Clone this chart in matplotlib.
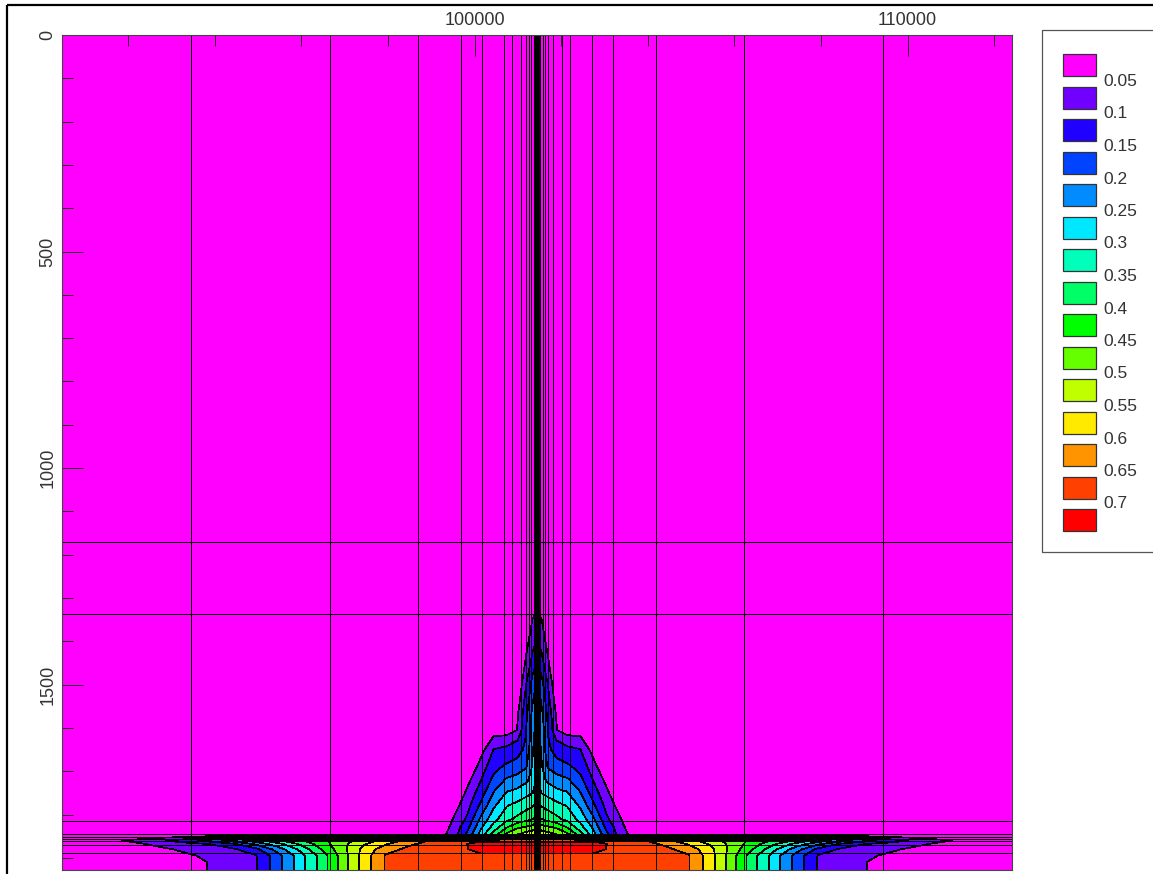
import numpy as np
import matplotlib
matplotlib.use("Agg")
import matplotlib.pyplot as plt
from matplotlib.patches import Rectangle

plt.rcParams["font.family"] = ["Liberation Sans", "DejaVu Sans"]

# ---- contour classes -------------------------------------------------------
levels = [0.05, 0.1, 0.15, 0.2, 0.25, 0.3, 0.35, 0.4, 0.45, 0.5, 0.55, 0.6, 0.65, 0.7]
level_labels = ["0.05", "0.1", "0.15", "0.2", "0.25", "0.3", "0.35", "0.4",
                "0.45", "0.5", "0.55", "0.6", "0.65", "0.7"]
fill_colors = ["#FF00FF", "#7000FF", "#2000FF", "#0044FF", "#008CFF", "#00E8FF",
               "#00FFBB", "#00FF66", "#00FF00", "#66FF00", "#BFFF00", "#FFEA00",
               "#FF9400", "#FF4000", "#FF0000"]

# ---- section geometry --------------------------------------------------------
well_x = 101440.0
x_min, x_max = 90470.0, 112410.0
z_top, z_bottom = 0.0, 1928.0

# radial distance of the data columns from the well
radius = [0, 100, 250, 450, 700, 1000, 1300, 1600, 1900, 2200, 2600, 3000, 3500,
          4000, 4500, 5000, 5500, 6000, 6500, 7000, 7600, 8200, 8800, 9600,
          10300, 11000]

# cone rising along the well (columns 0 .. 2600)
plume_depth = [0, 1250, 1300, 1350, 1420, 1500, 1570, 1605, 1620, 1650, 1690,
               1720, 1750, 1780, 1810, 1830, 1846]
plume_conc = [
    [0.0, 0.0, 0.0, 0.0, 0.0, 0.0, 0.0, 0.0, 0.0, 0.0, 0.0],
    [0.0, 0.0, 0.0, 0.0, 0.0, 0.0, 0.0, 0.0, 0.0, 0.0, 0.0],
    [0.02, 0.0, 0.0, 0.0, 0.0, 0.0, 0.0, 0.0, 0.0, 0.0, 0.0],
    [0.07, 0.053, 0.0, 0.0, 0.0, 0.0, 0.0, 0.0, 0.0, 0.0, 0.0],
    [0.12, 0.097, 0.042, 0.0, 0.0, 0.0, 0.0, 0.0, 0.0, 0.0, 0.0],
    [0.21, 0.171, 0.101, 0.0, 0.0, 0.0, 0.0, 0.0, 0.0, 0.0, 0.0],
    [0.255, 0.217, 0.139, 0.045, 0.0, 0.0, 0.0, 0.0, 0.0, 0.0, 0.0],
    [0.275, 0.233, 0.152, 0.054, 0.0, 0.0, 0.0, 0.0, 0.0, 0.0, 0.0],
    [0.28, 0.233, 0.152, 0.089, 0.065, 0.052, 0.0, 0.0, 0.0, 0.0, 0.0],
    [0.29, 0.246, 0.164, 0.127, 0.112, 0.102, 0.028, 0.0, 0.0, 0.0, 0.0],
    [0.305, 0.257, 0.196, 0.175, 0.160, 0.134, 0.072, 0.0, 0.0, 0.0, 0.0],
    [0.31, 0.271, 0.239, 0.22, 0.2075, 0.164, 0.098, 0.036, 0.0, 0.0, 0.0],
    [0.33, 0.299, 0.285, 0.267, 0.254, 0.203, 0.125, 0.064, 0.0, 0.0, 0.0],
    [0.36, 0.347, 0.334, 0.317, 0.298, 0.242, 0.161, 0.086, 0.032, 0.0, 0.0],
    [0.42, 0.399, 0.382, 0.362, 0.334, 0.283, 0.209, 0.110, 0.0585, 0.0, 0.0],
    [0.50, 0.47, 0.46, 0.444, 0.40, 0.321, 0.241, 0.139, 0.073, 0.020, 0.0],
    [0.55, 0.539, 0.523, 0.501, 0.464, 0.375, 0.271, 0.164, 0.083, 0.0335, 0.0],
]

# saline bottom layer (all columns)
layer_depth = [1860, 1868, 1880, 1895, 1910, 1928]
layer_conc = [
    [0.69, 0.69, 0.69, 0.69, 0.69, 0.69, 0.69, 0.69, 0.677, 0.664, 0.644, 0.609, 0.566,
     0.522, 0.479, 0.435, 0.391, 0.342, 0.281, 0.227, 0.169, 0.122, 0.087, 0.049, 0.0, 0.0],
    [0.72, 0.72, 0.72, 0.72, 0.72, 0.72, 0.72, 0.701, 0.689, 0.677, 0.661, 0.639, 0.595,
     0.545, 0.484, 0.422, 0.353, 0.280, 0.208, 0.143, 0.099, 0.081, 0.062, 0.021, 0.0, 0.0],
    [0.72, 0.72, 0.72, 0.72, 0.72, 0.72, 0.72, 0.699, 0.6905, 0.682, 0.671, 0.659, 0.630,
     0.564, 0.482, 0.398, 0.307, 0.221, 0.136, 0.094, 0.076, 0.059, 0.034, 0.0, 0.0, 0.0],
    [0.69, 0.69, 0.69, 0.69, 0.69, 0.69, 0.69, 0.69, 0.69, 0.685, 0.676, 0.666, 0.654,
     0.573, 0.472, 0.366, 0.272, 0.178, 0.096, 0.080, 0.061, 0.036, 0.005, 0.0, 0.0, 0.0],
    [0.68, 0.68, 0.68, 0.68, 0.68, 0.68, 0.68, 0.68, 0.68, 0.677, 0.670, 0.663, 0.654,
     0.573, 0.472, 0.366, 0.272, 0.178, 0.0935, 0.074, 0.051, 0.02, 0.0, 0.0, 0.0, 0.0],
    [0.68, 0.68, 0.68, 0.68, 0.68, 0.68, 0.68, 0.68, 0.68, 0.677, 0.670, 0.663, 0.654,
     0.573, 0.472, 0.366, 0.272, 0.178, 0.0935, 0.074, 0.051, 0.02, 0.0, 0.0, 0.0, 0.0],
]

# model grid lines
mesh_offsets = [8000, 4790, 2750, 1760, 1276, 760, 568, 372, 264, 195, 146,
                70, 50, 35, 22, 10]
mesh_depths = [1170, 1338, 1815, 1845, 1851, 1856, 1861, 1871, 1889]

# axis ticks
x_major = [100000, 110000]
x_minor = [92000, 94000, 96000, 98000, 102000, 104000, 106000, 108000, 112000]
y_major = [0, 500, 1000, 1500]
y_minor = [100, 200, 300, 400, 600, 700, 800, 900, 1100, 1200, 1300, 1400,
           1600, 1700, 1800, 1900]

# ---- assemble the symmetric section -------------------------------------------
r = np.array(radius, dtype=float)
n_cols = len(radius)
rows = [row + [0.0] * (n_cols - len(row)) for row in plume_conc] + layer_conc
half = np.array(rows)
depth = np.array(plume_depth + layer_depth, dtype=float)

xs = np.concatenate([well_x - r[::-1][:-1], well_x + r])
conc = np.concatenate([half[:, ::-1][:, :-1], half], axis=1)
X, Z = np.meshgrid(xs, depth)

# ---- figure --------------------------------------------------------------------
W, H = 1153, 874
fig = plt.figure(figsize=(W / 100, H / 100), dpi=100)
fig.patch.set_facecolor("white")
ax = fig.add_axes([62 / W, 4 / H, 950 / W, 835 / H])

bounds = [-1.0] + levels + [2.0]
ax.contourf(X, Z, conc, levels=bounds, colors=fill_colors, antialiased=False)
ax.contour(X, Z, conc, levels=levels, colors="black", linewidths=0.5,
           antialiased=False)

grid_kw = dict(color="black", lw=0.5, antialiased=False)
for off in mesh_offsets:
    ax.axvline(well_x - off, **grid_kw)
    ax.axvline(well_x + off, **grid_kw)
ax.axvline(well_x, **grid_kw)
for d in mesh_depths:
    ax.axhline(d, **grid_kw)

ax.set_xlim(x_min, x_max)
ax.set_ylim(z_bottom, z_top)

ax.xaxis.set_ticks_position("top")
ax.set_xticks(x_major)
ax.set_xticklabels([str(v) for v in x_major])
ax.set_xticks(x_minor, minor=True)
ax.set_yticks(y_major)
ax.set_yticklabels([str(v) for v in y_major])
ax.set_yticks(y_minor, minor=True)
ax.tick_params(axis="both", which="major", direction="in", length=15, width=0.7,
               color="#222222", labelsize=13, labelcolor="#333333")
ax.tick_params(axis="both", which="minor", direction="in", length=8, width=0.7,
               color="#222222")
ax.tick_params(axis="x", which="both", top=True, bottom=False, pad=4)
ax.tick_params(axis="y", which="both", left=True, right=False, pad=4)
for lab in ax.get_yticklabels():
    lab.set_rotation(90)
    lab.set_va("center")
for sp in ax.spines.values():
    sp.set_color("#444444")
    sp.set_linewidth(0.8)

# ---- legend and outer frame, drawn in pixel space ----------------------------
ov = fig.add_axes([0, 0, 1, 1], zorder=5)
ov.set_xlim(0, W)
ov.set_ylim(H, 0)
ov.axis("off")
ov.patch.set_visible(False)

ov.plot([7, 7], [5, H + 10], color="black", lw=1.6, solid_capstyle="butt")
ov.plot([7, W + 10], [5, 5], color="black", lw=1.6, solid_capstyle="butt")

ov.add_patch(Rectangle((1042, 30), 140, 522, fill=False, edgecolor="#555555", lw=0.9))
box_top, step = 54.0, 32.5
for i, col in enumerate(fill_colors):
    ov.add_patch(Rectangle((1063, box_top + step * i), 33, 22, facecolor=col,
                           edgecolor="#333333", lw=0.9))
for i, lab in enumerate(level_labels):
    ov.text(1103, box_top + step * i + 27.5, lab, ha="left", va="center",
            fontsize=12.5, color="#333333")

fig.savefig("out.png", dpi=100)
